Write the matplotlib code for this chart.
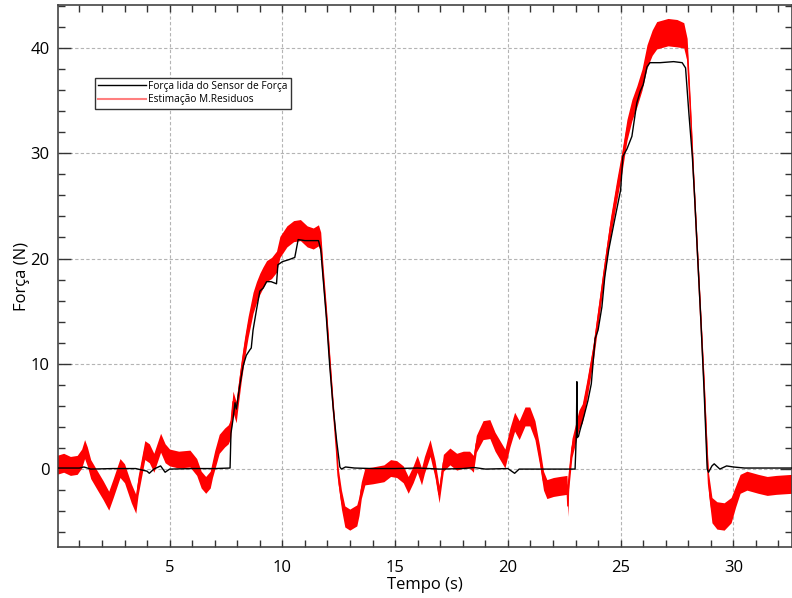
import numpy as np
import matplotlib
matplotlib.use("Agg")
import matplotlib.pyplot as plt
from matplotlib.lines import Line2D
from matplotlib.ticker import MultipleLocator

plt.rcParams['font.family'] = ['Open Sans', 'DejaVu Sans']

sensor_t = [0.0, 1.0, 1.2, 1.5, 2.5, 3.5, 4.0, 4.1, 4.3, 4.6, 4.8, 5.0, 6.0, 7.0, 7.68,
            7.72, 7.81, 7.9, 7.96, 8.1, 8.26, 8.4, 8.55, 8.62, 8.7, 8.85, 9.0, 9.15, 9.3,
            9.5, 9.74, 9.8, 10.0, 10.3, 10.55, 10.7, 11.0, 11.3, 11.6, 11.7, 11.8, 11.95,
            12.1, 12.25, 12.4, 12.55, 12.62, 12.8, 13.2, 14.0, 15.0, 16.0, 17.0, 18.0, 18.5,
            19.0, 20.0, 20.3, 20.5, 21.0, 22.0, 22.98, 23.04, 23.06, 23.08, 23.13, 23.2,
            23.37, 23.55, 23.7, 23.87, 24.0, 24.17, 24.3, 24.47, 24.7, 25.0, 25.1, 25.28,
            25.5, 25.72, 25.87, 26.0, 26.17, 26.3, 26.75, 27.35, 27.73, 27.88, 28.03, 28.18,
            28.28, 28.4, 28.55, 28.7, 28.84, 28.9, 29.05, 29.15, 29.4, 29.7, 30.0, 30.5,
            31.5, 32.6]
sensor_f = [0.1, 0.1, 0.2, 0.0, 0.05, 0.05, -0.2, -0.4, 0.0, 0.3, -0.3, 0.0, 0.05, 0.05, 0.1,
            3.4, 4.7, 6.3, 5.7, 7.8, 9.8, 10.8, 11.3, 11.5, 13.2, 15.1, 16.9, 17.2, 17.8,
            17.8, 17.6, 19.4, 19.7, 19.9, 20.1, 21.8, 21.7, 21.7, 21.7, 20.9, 18.3, 14.4,
            9.8, 5.9, 2.8, 0.2, 0.0, 0.2, 0.1, 0.05, 0.05, 0.1, 0.0, 0.05, 0.15,
            0.0, 0.05, -0.4, 0.0, 0.0, 0.0, 0.0, 3.5, 8.3, 3.0, 3.1, 3.7,
            5.0, 6.5, 8.1, 12.4, 13.2, 15.4, 18.3, 20.8, 23.3, 26.5, 29.7, 30.4,
            31.6, 34.8, 35.9, 36.5, 38.2, 38.6, 38.6, 38.7, 38.6, 38.1, 33.7, 29.7,
            25.9, 20.8, 14.5, 7.5, 0.0, -0.3, 0.3, 0.5, 0.0, 0.3, 0.2, 0.1,
            0.1, 0.1]

# Estimação M.Residuos (red): centre and noise half-width
resid_t = [0.0, 0.3, 0.6, 0.9, 1.1, 1.23, 1.35, 1.5, 1.8, 2.05, 2.3, 2.5, 2.8, 3.0, 3.3,
           3.5, 3.6, 3.9, 4.1, 4.3, 4.6, 4.8, 5.0, 5.4, 5.9, 6.2, 6.4, 6.6, 6.8, 6.9,
           7.0, 7.2, 7.44, 7.6, 7.7, 7.81, 7.95, 8.05, 8.18, 8.33, 8.48, 8.7, 8.85, 9.0,
           9.14, 9.3, 9.52, 9.74, 9.89, 10.2, 10.5, 10.8, 11.1, 11.37, 11.6, 11.7, 11.8,
           11.95, 12.1, 12.25, 12.4, 12.47, 12.62, 12.77, 12.99, 13.3, 13.4, 13.5, 13.66,
           14.0, 14.5, 14.8, 15.07, 15.36, 15.58, 15.8, 15.98, 16.17, 16.3, 16.55, 16.77,
           16.95, 17.14, 17.43, 17.73, 18.02, 18.3, 18.47, 18.6, 18.9, 19.2, 19.43, 19.65,
           19.87, 20.09, 20.3, 20.5, 20.76, 20.97, 21.2, 21.4, 21.58, 21.73, 22.02, 22.3,
           22.62, 22.66, 22.7, 22.84, 22.99, 23.15, 23.3, 23.5, 23.8, 24.0, 24.24, 24.4,
           24.55, 24.83, 25.05, 25.28, 25.5, 25.72, 25.95, 26.17, 26.4, 26.6, 27.1, 27.5,
           27.8, 27.95, 28.1, 28.24, 28.4, 28.55, 28.7, 28.84, 28.9, 29.05, 29.27, 29.59,
           29.9, 30.1, 30.3, 30.6, 31.1, 31.5, 31.9, 32.6]
resid_f = [0.4, 0.6, 0.3, 0.4, 1.0, 1.9, 1.2, 0.0, -1.1, -2.0, -3.0, -1.8, 0.1, -0.4, -2.3,
           -3.3, -1.6, 1.8, 1.5, 0.6, 2.5, 1.5, 1.1, 0.9, 1.0, 0.2, -1.0, -1.5, -1.0, 0.0,
           0.86, 2.4, 3.0, 3.3, 3.8, 6.4, 5.4, 7.2, 9.4, 11.6, 13.5, 15.8, 16.8, 17.6,
           18.2, 18.8, 19.1, 19.7, 21.1, 22.1, 22.6, 22.7, 22.1, 21.9, 22.2, 21.5, 18.6,
           14.8, 10.3, 5.9, 1.8, -0.6, -2.9, -4.5, -4.8, -4.4, -3.5, -2.0, -0.7,
           -0.6, -0.4, 0.1, 0.0, -0.5, -1.5, -0.5, 0.5, -0.7, 0.4, 2.0, 0.0,
           -2.4, 0.6, 1.2, 0.7, 0.9, 0.9, 0.5, 2.4, 3.7, 3.8, 2.6, 1.8,
           1.0, 3.0, 4.5, 3.7, 5.0, 5.0, 3.7, 1.4, -1.1, -1.9, -1.7, -1.6,
           -1.5, -3.5, -1.0, 2.0, 3.3, 4.7, 5.3, 7.5, 11.3, 14.5, 18.3, 20.8,
           23.0, 26.5, 29.1, 32.2, 34.1, 35.4, 37.0, 39.2, 40.5, 41.2, 41.5, 41.4,
           41.2, 39.8, 33.8, 27.5, 20.8, 14.5, 8.1, 1.2, -1.4, -3.9, -4.4, -4.5,
           -3.9, -2.6, -1.4, -1.1, -1.4, -1.6, -1.5, -1.4]
resid_half = [0.9, 0.9, 0.9, 0.9, 0.9, 0.9, 0.9, 0.9, 0.9, 0.9, 0.9, 0.9, 0.9, 0.9, 0.9,
              0.9, 0.9, 0.9, 0.9, 0.9, 0.9, 0.9, 0.8, 0.8, 0.8, 0.8, 0.8, 0.8, 0.8, 0.8,
              0.9, 0.9, 0.9, 0.9, 0.9, 1.0, 1.0, 1.0, 1.0, 1.0, 1.0, 1.0, 1.0, 1.0,
              1.0, 1.0, 1.0, 1.0, 1.0, 1.0, 1.0, 1.0, 1.0, 1.0, 1.0, 1.0, 0.8,
              0.6, 0.6, 0.6, 0.6, 0.8, 0.9, 1.0, 1.0, 1.0, 0.9, 0.8, 0.8,
              0.8, 0.8, 0.8, 0.8, 0.8, 0.8, 0.8, 0.8, 0.8, 0.8, 0.8, 0.8,
              0.8, 0.8, 0.8, 0.8, 0.8, 0.8, 0.8, 0.8, 0.9, 0.9, 0.9, 0.9,
              0.9, 0.9, 0.9, 0.9, 0.9, 0.9, 0.9, 0.9, 0.9, 0.9, 0.9, 0.9,
              0.9, 1.0, 0.9, 0.9, 0.9, 0.9, 0.9, 0.9, 0.8, 0.8, 0.8, 0.8,
              0.9, 1.0, 1.0, 1.0, 1.0, 1.0, 1.0, 1.1, 1.2, 1.3, 1.3, 1.3,
              1.2, 1.1, 0.8, 0.6, 0.6, 0.6, 0.6, 0.8, 1.0, 1.2, 1.3, 1.3,
              1.2, 1.0, 0.9, 0.9, 0.9, 0.9, 0.9, 0.9]

label_sensor = "Força lida do Sensor de Força"
label_resid = "Estimação M.Residuos"

fig = plt.figure(figsize=(7.92, 5.98), dpi=100)
ax = fig.add_axes([58 / 792, 51 / 598, 734 / 792, 541.7 / 598])

rt = np.array(resid_t)
rf = np.array(resid_f)
rh = np.array(resid_half)
ax.fill_between(rt, rf - rh, rf + rh, color='#ff0000', lw=0, zorder=2)
ax.plot(rt, rf, color='#ff0000', lw=1.0, zorder=2)
ax.plot(sensor_t, sensor_f, color='black', lw=1.0, zorder=3)

ax.set_xlim(0.05, 32.6)
ax.set_ylim(-7.4, 44.05)
ax.xaxis.set_major_locator(MultipleLocator(5))
ax.xaxis.set_minor_locator(MultipleLocator(1))
ax.yaxis.set_major_locator(MultipleLocator(10))
ax.yaxis.set_minor_locator(MultipleLocator(2))
ax.grid(True, which='major', color='#b4b4b4', linestyle=(0, (3, 2)), lw=0.8, zorder=0)
ax.set_axisbelow(True)

for s in ax.spines.values():
    s.set_color('#444444')
    s.set_linewidth(1.2)
ax.tick_params(which='both', direction='in', top=True, right=True, color='#333333',
               labelsize=12, width=1.0)
ax.tick_params(axis='x', which='major', length=5, pad=9)
ax.tick_params(axis='x', which='minor', length=5)
ax.tick_params(axis='y', which='major', length=9, pad=6)
ax.tick_params(axis='y', which='minor', length=5)

ax.set_xlabel("Tempo (s)", fontsize=12, labelpad=1)
ax.set_ylabel("Força (N)", fontsize=12, labelpad=0)

handles = [Line2D([], [], color='black', lw=1.0),
           Line2D([], [], color='#ff0000', alpha=0.5, lw=1.5)]
leg = ax.legend(handles, [label_sensor, label_resid], loc='upper left',
                bbox_to_anchor=(0.05, 0.866), fontsize=7.3, frameon=True, fancybox=False,
                framealpha=1, edgecolor='#333333', borderpad=0.3, handlelength=4.8,
                handletextpad=0.2, labelspacing=0.25, borderaxespad=0)
leg.get_frame().set_linewidth(1.0)

fig.savefig("out.png", dpi=100)
